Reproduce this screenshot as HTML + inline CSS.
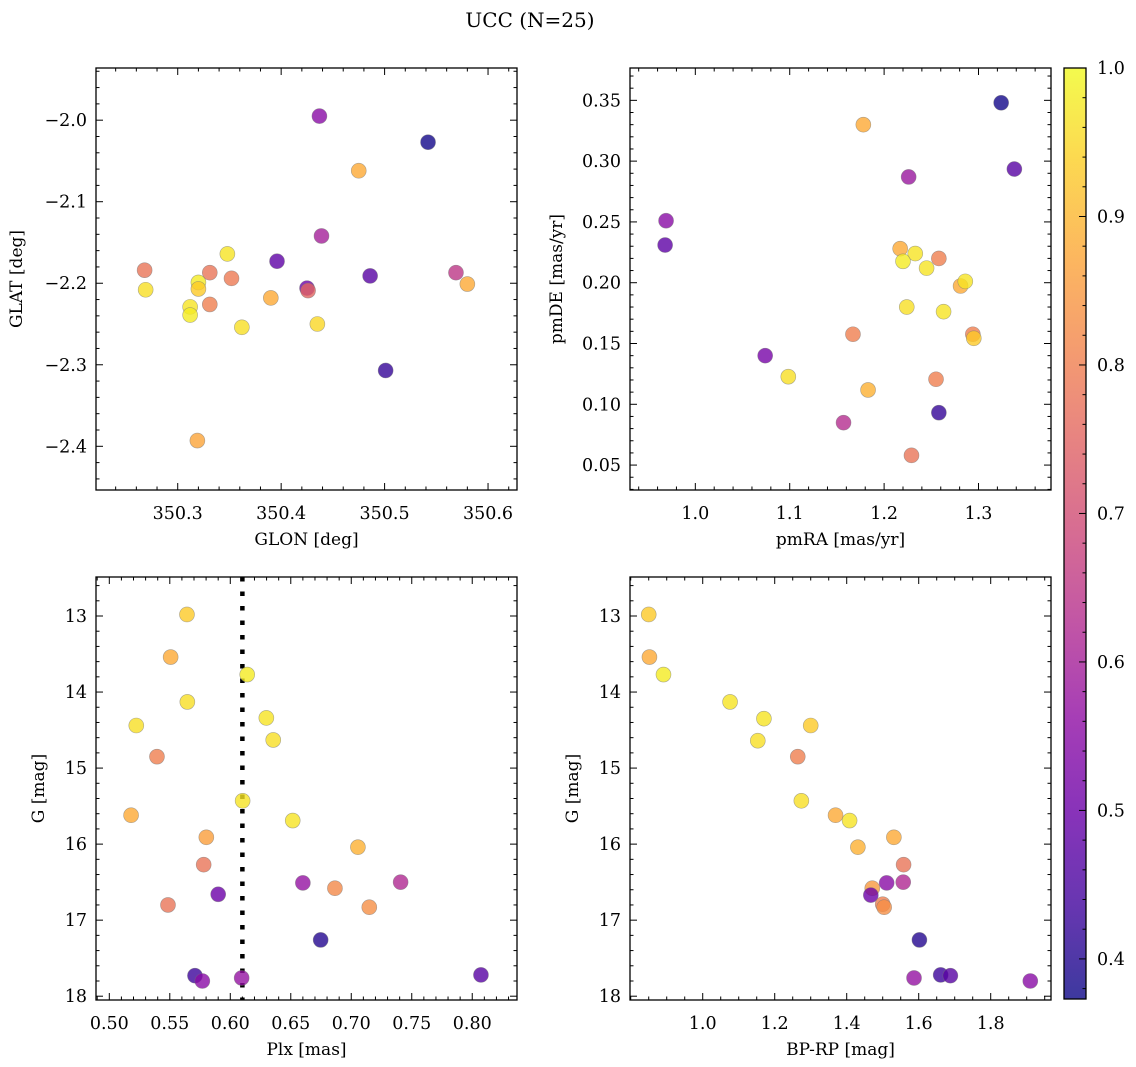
<!DOCTYPE html>
<html><head><meta charset="utf-8">
<style>
html,body{margin:0;padding:0;background:#fff;}
svg{display:block;font-family:"DejaVu Serif","Liberation Serif",serif;}
</style></head>
<body>
<svg id="fig" width="1136" height="1067" viewBox="0 0 1136 1067" xmlns="http://www.w3.org/2000/svg">
<rect width="1136" height="1067" fill="#fff"/>
<text x="530" y="27" font-size="20" text-anchor="middle">UCC (N=25)</text>
</svg>
<script>
// ---- data ----
const glon = [350.437,350.542,350.475,350.439,350.348,350.396,350.268,350.331,350.352,350.486,350.569,350.58,350.32,350.32,350.269,350.425,350.426,350.39,350.331,350.312,350.312,350.362,350.435,350.501,350.319];
const glat = [-1.995,-2.027,-2.062,-2.142,-2.164,-2.173,-2.184,-2.187,-2.194,-2.191,-2.187,-2.201,-2.199,-2.207,-2.208,-2.206,-2.209,-2.218,-2.226,-2.229,-2.239,-2.254,-2.25,-2.307,-2.393];
const probGal = [0.55,0.38,0.88,0.6,0.97,0.48,0.78,0.78,0.79,0.47,0.65,0.88,0.98,0.93,0.96,0.5,0.75,0.88,0.8,0.97,0.98,0.96,0.95,0.42,0.87];

const pmra = [1.324,1.178,1.338,1.226,0.969,0.968,1.217,1.233,1.258,1.220,1.245,1.281,1.286,1.224,1.263,1.167,1.294,1.295,1.074,1.0985,1.255,1.183,1.157,1.258,1.229];
const pmde = [0.348,0.330,0.2935,0.287,0.251,0.231,0.228,0.224,0.220,0.2176,0.212,0.1973,0.2011,0.180,0.1762,0.1576,0.1576,0.1543,0.140,0.1227,0.1206,0.1118,0.0849,0.0931,0.058];
const probPm = [0.38,0.88,0.47,0.58,0.55,0.48,0.88,0.97,0.8,0.98,0.97,0.88,0.97,0.96,0.97,0.8,0.8,0.93,0.52,0.96,0.8,0.89,0.63,0.42,0.78];

const plx = [0.5642,0.5507,0.614,0.5645,0.5223,0.6298,0.6355,0.5394,0.6102,0.518,0.6516,0.5802,0.7055,0.578,0.660,0.7408,0.6865,0.590,0.5485,0.7149,0.6747,0.5708,0.5769,0.6094,0.8072];
const gPlx = [12.98,13.54,13.77,14.13,14.44,14.34,14.63,14.85,15.43,15.62,15.69,15.91,16.04,16.27,16.51,16.50,16.58,16.66,16.80,16.83,17.26,17.73,17.80,17.76,17.72];
const probPlx = [0.93,0.88,0.98,0.96,0.96,0.97,0.96,0.8,0.97,0.88,0.97,0.86,0.89,0.78,0.57,0.62,0.82,0.5,0.78,0.83,0.4,0.43,0.55,0.57,0.47];
const plxLine = [0.61];

const bprp = [0.85,0.852,0.891,1.076,1.170,1.30,1.153,1.264,1.274,1.369,1.408,1.531,1.431,1.558,1.557,1.511,1.471,1.467,1.50,1.504,1.602,1.661,1.688,1.587,1.910];
const gCmd = [12.98,13.54,13.77,14.13,14.35,14.44,14.64,14.85,15.43,15.62,15.69,15.91,16.04,16.27,16.50,16.51,16.58,16.67,16.79,16.83,17.26,17.72,17.73,17.76,17.80];
const probCmd = [0.93,0.88,0.98,0.97,0.97,0.93,0.96,0.8,0.96,0.88,0.97,0.88,0.89,0.78,0.62,0.55,0.85,0.5,0.8,0.83,0.4,0.43,0.47,0.57,0.55];

const glonTicks = [350.3,350.4,350.5,350.6];
const glatTicks = [-2.0,-2.1,-2.2,-2.3,-2.4];
const pmraTicks = [1.0,1.1,1.2,1.3];
const pmdeTicks = [0.05,0.10,0.15,0.20,0.25,0.30,0.35];
const plxTicks = [0.50,0.55,0.60,0.65,0.70,0.75,0.80];
const gTicks = [13,14,15,16,17,18];
const bprpTicks = [1.0,1.2,1.4,1.6,1.8];
const cbTicks = [0.4,0.5,0.6,0.7,0.8,0.9,1.0];
const vmin = 0.373, vmax = 1.0;

// ---- helpers ----
const NS = "http://www.w3.org/2000/svg";
const svg = document.getElementById('fig');
const TFS = 17.5, LFS = 17;
function el(tag, attrs, parent){
  const e = document.createElementNS(NS, tag);
  for (const k in attrs) e.setAttribute(k, attrs[k]);
  (parent||svg).appendChild(e);
  return e;
}
const plasma = ['#0d0887','#41049d','#6a00a8','#8f0da4','#b12a90','#cc4778','#e16462','#f2844b','#fca636','#fcce25','#f0f921'];
function hex(c){return [parseInt(c.substr(1,2),16),parseInt(c.substr(3,2),16),parseInt(c.substr(5,2),16)];}
function cmap(v){
  let t = (v - vmin)/(vmax - vmin); t = Math.max(0, Math.min(1, t));
  const f = t*10, i = Math.min(9, Math.floor(f)), r = f - i;
  const a = hex(plasma[i]), b = hex(plasma[i+1]);
  return 'rgb(' + a.map((x,k)=>Math.round(x + (b[k]-x)*r)).join(',') + ')';
}
function fmt(v, d){ return (v<0?'\u2212':'') + Math.abs(v).toFixed(d); }

function panel(cfg){
  const g = el('g', {});
  
  
  const {x0,x1,y0,y1} = cfg;
  const sx = v => x0 + (v - cfg.xmin)/(cfg.xmax - cfg.xmin)*(x1-x0);
  const sy = cfg.invert ? (v => y0 + (v - cfg.ymin)/(cfg.ymax - cfg.ymin)*(y1-y0))
                        : (v => y1 - (v - cfg.ymin)/(cfg.ymax - cfg.ymin)*(y1-y0));
  const tk = el('g', {stroke:'#000','stroke-width':1}, g);
  
  
  const lo = Math.min(cfg.xmin,cfg.xmax), hi = Math.max(cfg.xmin,cfg.xmax);
  for (let k = Math.ceil(lo/cfg.xminor - 1e-6); k*cfg.xminor <= hi + 1e-9; k++){
    const v = k*cfg.xminor, px = sx(v);
    const major = cfg.xticks.some(t => Math.abs(t - v) < cfg.xminor*0.1);
    const L = major ? 7 : 3.5;
    el('line', {x1:px,x2:px,y1:y1,y2:y1-L}, tk);
    el('line', {x1:px,x2:px,y1:y0,y2:y0+L}, tk);
  }
  const ylo = Math.min(cfg.ymin,cfg.ymax), yhi = Math.max(cfg.ymin,cfg.ymax);
  for (let k = Math.ceil(ylo/cfg.yminor - 1e-6); k*cfg.yminor <= yhi + 1e-9; k++){
    const v = k*cfg.yminor, py = sy(v);
    const major = cfg.yticks.some(t => Math.abs(t - v) < cfg.yminor*0.1);
    const L = major ? 7 : 3.5;
    el('line', {x1:x0,x2:x0+L,y1:py,y2:py}, tk);
    el('line', {x1:x1,x2:x1-L,y1:py,y2:py}, tk);
  }
  cfg.xticks.forEach(t => {
    const tx = el('text', {x:sx(t), y:y1+29, 'font-size':TFS, 'text-anchor':'middle'}, g);
    
    
    tx.textContent = fmt(t, cfg.xd);
  });
  cfg.yticks.forEach(t => {
    const tx = el('text', {x:x0-9, y:sy(t)+6, 'font-size':TFS, 'text-anchor':'end'}, g);
    
    
    tx.textContent = fmt(t, cfg.yd);
  });
  const xt = el('text', {x:(x0+x1)/2, y:y1+55, 'font-size':LFS, 'text-anchor':'middle'}, g);
  
  
  xt.textContent = cfg.xlabel;
  const yt = el('text', {x:0, y:0, 'font-size':LFS, 'text-anchor':'middle', transform:`translate(${cfg.ylx},${(y0+y1)/2}) rotate(-90)`}, g);
  
  
  yt.textContent = cfg.ylabel;
  if (cfg.vline){
    cfg.vline.forEach(v => {
      const ln = el('line', {x1:sx(v), x2:sx(v), y1:y0, y2:y1, stroke:'#000', 'stroke-width':4.5, 'stroke-dasharray':'4.5 10'}, g);
      
      
    });
  }
  const pts = el('g', {}, g);
  
  
  cfg.xs.forEach((v,i) => {
    const c = el('circle', {cx:sx(v), cy:sy(cfg.ys[i]), r:7.5, fill:cmap(cfg.cs[i]), 'fill-opacity':0.8, stroke:'#777', 'stroke-opacity':0.6, 'stroke-width':0.6}, pts);
    
    
  });
  const fr = el('rect', {x:x0, y:y0, width:x1-x0, height:y1-y0, fill:'none', stroke:'#000', 'stroke-width':1.3}, g);
  
  
}

panel({name:'glon-glat-panel', x0:96,x1:517,y0:68,y1:490, xmin:350.221,xmax:350.628, ymin:-2.4536,ymax:-1.936,
  xticks:glonTicks, yticks:glatTicks, xminor:0.02, yminor:0.02, xd:1, yd:1,
  xlabel:'GLON [deg]', ylabel:'GLAT [deg]', ylx:22, xs:glon, ys:glat, cs:probGal});
panel({name:'pmra-pmde-panel', x0:630,x1:1051,y0:68,y1:490, xmin:0.9308,xmax:1.3768, ymin:0.0295,ymax:0.3766,
  xticks:pmraTicks, yticks:pmdeTicks, xminor:0.02, yminor:0.01, xd:1, yd:2,
  xlabel:'pmRA [mas/yr]', ylabel:'pmDE [mas/yr]', ylx:562, xs:pmra, ys:pmde, cs:probPm});
panel({name:'plx-g-panel', x0:96,x1:517,y0:577,y1:1000, xmin:0.489,xmax:0.837, ymin:12.487,ymax:18.05, invert:true,
  xticks:plxTicks, yticks:gTicks, xminor:0.01, yminor:0.2, xd:2, yd:0,
  xlabel:'Plx [mas]', ylabel:'G [mag]', ylx:44, xs:plx, ys:gPlx, cs:probPlx, vline:plxLine});
panel({name:'bprp-g-panel', x0:630,x1:1051,y0:577,y1:1000, xmin:0.798,xmax:1.9675, ymin:12.487,ymax:18.05, invert:true,
  xticks:bprpTicks, yticks:gTicks, xminor:0.05, yminor:0.2, xd:1, yd:0,
  xlabel:'BP-RP [mag]', ylabel:'G [mag]', ylx:578, xs:bprp, ys:gCmd, cs:probCmd});

(function(){
  const x0=1064, x1=1086, y0=68, y1=999;
  const g = el('g', {});
  
  
  const defs = el('defs', {}, g);
  const lg = el('linearGradient', {id:'cbgrad', x1:0, y1:1, x2:0, y2:0}, defs);
  for (let i=0;i<=20;i++){
    const v = vmin + (vmax-vmin)*i/20;
    el('stop', {offset:(i/20), 'stop-color':cmap(v)}, lg);
  }
  const r = el('rect', {x:x0,y:y0,width:x1-x0,height:y1-y0, fill:'url(#cbgrad)', 'fill-opacity':0.8}, g);
  
  
  const sy = v => y1 - (v - vmin)/(vmax - vmin)*(y1-y0);
  for (let k = Math.ceil(vmin/0.02); k*0.02 <= vmax + 1e-9; k++){
    const v = k*0.02;
    const major = cbTicks.some(t => Math.abs(t-v) < 0.002);
    el('line', {x1:x1, x2:x1-(major?7:3.5), y1:sy(v), y2:sy(v), stroke:'#000','stroke-width':1}, g);
  }
  cbTicks.forEach(t => {
    const tx = el('text', {x:x1+11, y:sy(t)+6, 'font-size':TFS}, g);
    
    
    tx.textContent = t.toFixed(1);
  });
  const fr = el('rect', {x:x0,y:y0,width:x1-x0,height:y1-y0, fill:'none', stroke:'#000','stroke-width':1.3}, g);
  
  
})();
</script>
</body></html>
